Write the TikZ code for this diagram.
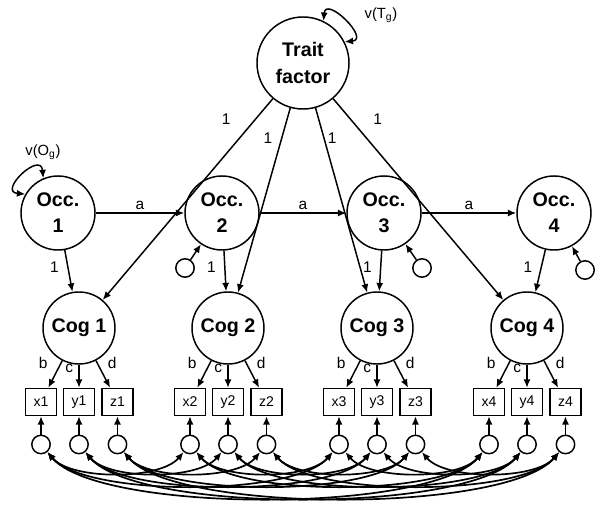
\documentclass[tikz,border=0pt]{standalone}
\usepackage{fontspec}
\setmainfont{Liberation Sans}
\usetikzlibrary{arrows.meta,positioning}

\tikzset{
  latent/.style={circle, draw, inner sep=0pt, minimum size=1.8cm, align=center,
    font=\bfseries\fontsize{14}{18.5}\selectfont},
  obs/.style={rectangle, draw, inner sep=0pt, minimum width=0.775cm, minimum height=0.675cm,
    font=\fontsize{10}{12}\selectfont},
  err/.style={circle, draw, inner sep=0pt, minimum size=0.46cm},
  lbl/.style={inner sep=1pt, font=\fontsize{11}{12}\selectfont},
  cov/.style={<->, line width=1.2pt},
}

\begin{document}
\begin{tikzpicture}[x=0.025cm, y=0.025cm, line width=1.05pt,
    >={Latex[length=6pt,width=5pt]}]
\useasboundingbox (0,0) rectangle (600,508);

% trait and occasions
\node[latent, minimum size=2.3cm, font=\bfseries\fontsize{14}{19}\selectfont] (trait) at (303,445) {Trait\\factor};
\foreach \n/\x in {1/58,2/222,3/384,4/554}
  \node[latent, minimum size=1.85cm] (occ\n) at (\x,295) {Occ.\\\n};
\foreach \p/\q in {1/2,2/3,3/4}
  \draw[->] (occ\p) -- node[lbl, above, yshift=1pt] {a} (occ\q);

% occasion residuals
\node[err] (d2) at (185,240) {};
\node[err] (d3) at (422,240) {};
\node[err] (d4) at (585,238) {};
\foreach \n in {2,3,4}
  \draw[->] (d\n) -- (occ\n);

% variances
\draw[<->] (occ1.150) to[out=175, in=95, distance=0.7cm] (occ1.113);
\node[lbl, font=\fontsize{10.5}{12}\selectfont] (vo) at (43,356) {v(O\textsubscript{g})};
\draw[<->] (trait.64) to[out=85, in=5, distance=0.65cm] (trait.27);
\node[lbl, font=\fontsize{10.5}{12}\selectfont] (vt) at (381,493) {v(T\textsubscript{g})};

% cognition factors and indicators
\foreach \n/\x in {1/79,2/228,3/377,4/527}
{
  \node[latent] (cog\n) at (\x,180) {Cog \n};
  \node[obs] (x\n) at (\x-38,106) {x\n};
  \node[obs] (y\n) at (\x,106) {y\n};
  \node[obs] (z\n) at (\x+38.5,106) {z\n};
  \foreach \m in {x,y,z}
  {
    \node[err, below=13pt of \m\n] (e\m\n) {};
    \draw[->] (e\m\n) -- (\m\n);
  }
  \draw[->] (cog\n) -- node[lbl, pos=0.1, xshift=-12.5pt] {b} (x\n);
  \draw[->] (cog\n) -- node[lbl, pos=0.15, xshift=-7pt] {c} (y\n);
  \draw[->] (cog\n) -- node[lbl, pos=0.1, xshift=10.5pt] {d} (z\n);
  \draw[->] (occ\n) -- node[lbl, pos=0.4, xshift=-9.5pt] {1} (cog\n);
}

% trait loadings
\draw[->] (trait) -- node[lbl, pos=0.1, xshift=-21pt] {1} (cog1);
\draw[->] (trait) -- node[lbl, pos=0.165, xshift=-9.8pt] {1} (cog2);
\draw[->] (trait) -- node[lbl, pos=0.165, xshift=5.7pt] {1} (cog3);
\draw[->] (trait) -- node[lbl, pos=0.1, xshift=19.5pt] {1} (cog4);

% correlated residuals
\foreach \p/\q in {1/2,1/3,1/4,2/3,2/4,3/4}
{
  \pgfmathsetmacro\dd{0.375+0.544*(\q-\p)}
  \foreach \m in {x,y,z}
    \draw[cov] (e\m\p) to[out=-50, in=-130, distance=\dd cm] (e\m\q);
}
\end{tikzpicture}
\end{document}
